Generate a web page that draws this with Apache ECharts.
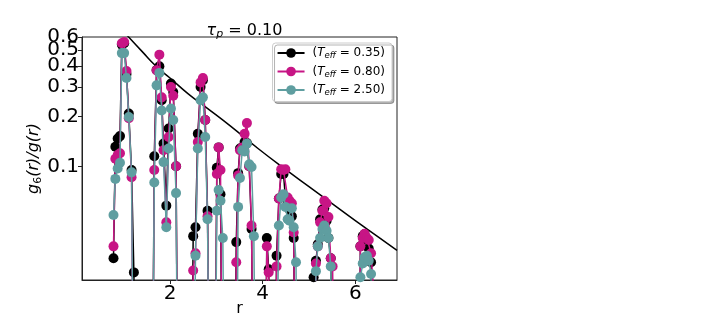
<!DOCTYPE html>
<html>
<head>
<meta charset="utf-8">
<script src="https://cdn.jsdelivr.net/npm/echarts@6/dist/echarts.min.js"></script>
<style>
  html, body { margin: 0; background: #fff; }
  #main { width: 706px; height: 320px; }
</style>
</head>
<body>
<div id="main"></div>
<script>
// value used for points that fall below the visible y range (line runs off the bottom)
var BELOW = 0.001;
var B = BELOW;

// r positions shared by the three curves
var rVals = [
  0.78, 0.82, 0.87, 0.92, 0.96, 1.01, 1.06, 1.11, 1.17, 1.22, 1.27,
  1.61, 1.66, 1.71, 1.77, 1.82, 1.86, 1.92, 1.97, 2.02, 2.07, 2.13, 2.18,
  2.45, 2.50, 2.55, 2.60, 2.66, 2.71, 2.76, 2.81, 2.86,
  2.91, 2.96, 3.01, 3.05, 3.09, 3.14, 3.19,
  3.38, 3.43, 3.47, 3.51, 3.56, 3.61, 3.66, 3.71, 3.76, 3.81, 3.86,
  4.04, 4.09, 4.13, 4.18, 4.26, 4.30, 4.35, 4.40, 4.45, 4.49, 4.54, 4.58, 4.63, 4.67, 4.72, 4.76,
  5.05, 5.10, 5.15, 5.19, 5.24, 5.29, 5.33, 5.38, 5.42, 5.47, 5.51, 5.56,
  6.02, 6.07, 6.11, 6.16, 6.20, 6.25, 6.29, 6.34, 6.38, 6.43
];

var g6_T035 = [
  0.028, 0.131, 0.147, 0.152, 0.54, 0.55, 0.36, 0.208, 0.095, 0.023, B,
  B, 0.115, 0.38, 0.40, 0.25, 0.137, 0.058, 0.169, 0.315, 0.28, 0.10, B,
  B, 0.038, 0.043, 0.157, 0.30, 0.33, 0.19, 0.054, B,
  B, B, 0.098, 0.13, 0.068, B, B,
  B, 0.035, 0.091, 0.128, 0.13, 0.14, 0.138, 0.10, 0.042, B, B,
  B, 0.037, 0.024, B, B, 0.029, 0.064, 0.09, 0.09, 0.065, 0.06, 0.055, 0.05, 0.037, B, B,
  B, 0.0215, 0.027, 0.034, 0.048, 0.055, 0.056, 0.047, 0.037, 0.028, B, B,
  B, B, 0.033, 0.038, 0.039, 0.036, 0.032, 0.0265, B, B
];

var g6_T080 = [
  0.033, 0.111, 0.117, 0.12, 0.55, 0.56, 0.375, 0.195, 0.086, B, B,
  B, 0.095, 0.378, 0.47, 0.26, 0.125, 0.046, 0.15, 0.30, 0.266, 0.10, B,
  B, 0.0236, 0.030, 0.14, 0.32, 0.34, 0.19, 0.05, B,
  B, B, 0.09, 0.13, 0.095, B, B,
  B, 0.0265, 0.088, 0.125, 0.13, 0.157, 0.182, 0.10, 0.044, B, B,
  B, 0.033, 0.023, B, B, 0.025, 0.064, 0.096, 0.095, 0.096, 0.065, 0.062, 0.060, 0.040, B, B,
  B, B, 0.026, 0.033, 0.046, 0.054, 0.062, 0.060, 0.0495, 0.028, 0.025, B,
  B, B, 0.033, 0.037, 0.0393, 0.037, 0.036, 0.030, 0.0206, B
];

var g6_T250 = [
  0.051, 0.084, 0.097, 0.105, 0.48, 0.48, 0.34, 0.198, 0.092, B, B,
  B, 0.080, 0.307, 0.365, 0.217, 0.106, 0.043, 0.128, 0.223, 0.19, 0.069, B,
  B, B, 0.029, 0.128, 0.25, 0.26, 0.15, 0.048, B,
  B, B, 0.054, 0.072, 0.062, 0.037, B,
  B, B, 0.057, 0.085, 0.125, 0.123, 0.137, 0.103, 0.099, 0.038, B,
  B, B, B, B, B, B, 0.044, 0.065, 0.068, 0.057, 0.048, 0.047, 0.056, 0.043, 0.0265, B,
  B, B, 0.0234, 0.033, 0.037, 0.042, 0.044, 0.041, 0.037, 0.025, B, B,
  B, B, 0.0215, 0.026, 0.0284, 0.029, 0.027, 0.0225, B, B
];

// envelope curve
var envR = [1.05, 1.4, 1.7, 2.0, 2.4, 2.8, 3.3, 3.9, 4.5, 5.0, 5.5, 6.0, 6.5, 6.9];
var envV = [0.624, 0.49, 0.40, 0.34, 0.272, 0.224, 0.175, 0.128, 0.0955, 0.0755, 0.0596, 0.0471, 0.0375, 0.0312];

var xTicks = [2, 4, 6];
var yTicks = [0.1, 0.2, 0.3, 0.4, 0.5, 0.6];
// 0.5 sits on top of 0.6 in the source; echarts drops one of them, so it goes on an overlay axis
var yTicksMain = [0.1, 0.2, 0.3, 0.4, 0.6];
var yTicksExtra = [0.5];
var tempLabels = ['0.35', '0.80', '2.50'];
var colors = ['#000000', '#c71585', '#5f9ea0'];

function zip(xs, ys) {
  return xs.map(function (x, i) { return [x, ys[i]]; });
}

var chart = echarts.init(document.getElementById('main'));

var curves = [g6_T035, g6_T080, g6_T250];
var series = [{
  name: 'envelope',
  type: 'line',
  data: zip(envR, envV),
  smooth: true,
  symbol: 'none',
  lineStyle: { color: '#000', width: 1.5 },
  z: 1
}];
curves.forEach(function (c, i) {
  series.push({
    name: tempLabels[i],
    type: 'line',
    data: zip(rVals, c),
    symbol: 'circle',
    symbolSize: 10,
    itemStyle: { color: colors[i] },
    lineStyle: { color: colors[i], width: 1.5 },
    z: 2 + i
  });
});

var font = 'DejaVu Sans';
var yMin = 0.0207, yMax = 0.6001;

function yLabel(ticks) {
  return {
    customValues: ticks,
    showMaxLabel: true,
    showMinLabel: true,
    hideOverlap: false,
    fontSize: 20,
    color: '#000',
    margin: 3,
    formatter: function (v) { return (+v).toFixed(1); }
  };
}

chart.setOption({
  animation: false,
  textStyle: { fontFamily: font, color: '#000' },
  title: {
    text: '{it|τ}{sub|p}{n| = 0.10}',
    left: 239.5,
    textAlign: 'center',
    top: 16,
    textStyle: {
      fontWeight: 'normal',
      rich: {
        it: { fontSize: 16, fontStyle: 'italic', fontWeight: 'normal', fontFamily: font, color: '#000' },
        sub: { fontSize: 11, fontStyle: 'italic', fontWeight: 'normal', fontFamily: font, color: '#000', padding: [8, 0, 0, 0] },
        n: { fontSize: 16, fontWeight: 'normal', fontFamily: font, color: '#000' }
      }
    }
  },
  legend: {
    data: tempLabels,
    orient: 'vertical',
    right: 314,
    top: 43,
    itemWidth: 27,
    itemHeight: 12,
    itemGap: 5,
    padding: [4, 7, 4, 4],
    backgroundColor: '#fff',
    borderColor: '#cccccc',
    borderWidth: 1,
    borderRadius: 3,
    shadowColor: 'rgba(0,0,0,0.3)',
    shadowOffsetX: 2,
    shadowOffsetY: 2,
    shadowBlur: 0,
    formatter: function (name) {
      return '{lp|(}{it|T}{sub|eff}{n| = ' + name + ')}';
    },
    textStyle: {
      rich: {
        lp: { fontSize: 12, fontFamily: font, color: '#000', padding: [0, 0, 0, 3] },
        n: { fontSize: 12, fontFamily: font, color: '#000' },
        it: { fontSize: 12, fontStyle: 'italic', fontFamily: font, color: '#000' },
        sub: { fontSize: 8.5, fontStyle: 'italic', fontFamily: font, color: '#000', padding: [6, 0, 0, 0] }
      }
    }
  },
  grid: {
    left: 82, right: 309, top: 37, bottom: 40,
    containLabel: false,
    outerBoundsMode: 'none',
    show: true, borderColor: '#222', borderWidth: 1
  },
  xAxis: {
    type: 'value',
    min: 0.1,
    max: 6.9,
    name: 'r',
    nameLocation: 'middle',
    nameGap: 21,
    nameMoveOverlap: false,
    nameTextStyle: { fontSize: 16, color: '#000' },
    axisLine: { show: true, lineStyle: { color: '#222' } },
    axisTick: { show: true, customValues: xTicks, length: 4, lineStyle: { color: '#222' } },
    axisLabel: { customValues: xTicks, fontSize: 20, color: '#000', margin: 4 },
    splitLine: { show: false }
  },
  yAxis: [{
    type: 'log',
    logBase: 10,
    min: yMin,
    max: yMax,
    name: '{it|g}{sub|6}{it|(r)/g(r)}',
    nameLocation: 'middle',
    nameGap: 35,
    nameRotate: 90,
    nameTextStyle: {
      rich: {
        it: { fontSize: 16, fontStyle: 'italic', fontFamily: font, color: '#000' },
        sub: { fontSize: 11, fontFamily: font, color: '#000', padding: [7, 0, 0, 0] }
      }
    },
    axisLine: { show: true, lineStyle: { color: '#222' } },
    axisTick: { show: true, customValues: yTicks, length: 4, lineStyle: { color: '#222' } },
    axisLabel: yLabel(yTicksMain),
    splitLine: { show: false },
    minorTick: { show: false }
  }, {
    type: 'log',
    logBase: 10,
    min: yMin,
    max: yMax,
    position: 'left',
    offset: 0,
    axisLine: { show: false },
    axisTick: { show: false },
    axisLabel: yLabel(yTicksExtra),
    splitLine: { show: false },
    minorTick: { show: false }
  }],
  series: series
});
</script>
</body>
</html>
